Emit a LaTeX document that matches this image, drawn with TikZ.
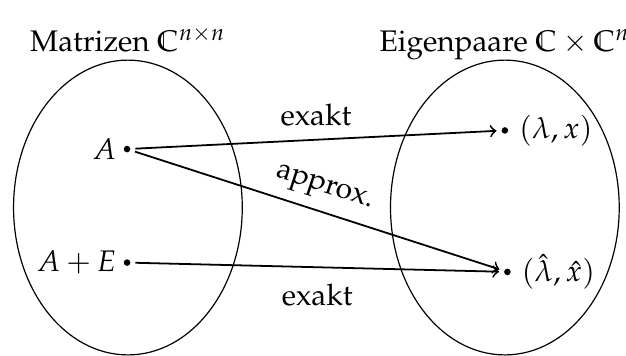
\documentclass[tikz,border=0pt]{standalone}
\usepackage[T1]{fontenc}
\usepackage{mathpazo}
\usetikzlibrary{positioning}
\tikzset{
  elem/.style={circle,fill=black,inner sep=0pt,minimum size=2.2pt},
  menge/.style={draw=black,thin},
  abb/.style={->,semithick,shorten >=1.5pt,shorten <=1.5pt},
}
\begin{document}
\begin{tikzpicture}[x=1cm,y=1cm]
\useasboundingbox (0,0) rectangle (7.39,4.20);
% Mengen
\draw[menge] (1.51,1.75) ellipse [x radius=1.35,y radius=1.74];
\draw[menge] (5.96,1.75) ellipse [x radius=1.35,y radius=1.74];
\node[anchor=base] (titelM) at (1.51,3.59) {Matrizen $\mathbb{C}^{n\times n}$};
\node[anchor=base] (titelE) at (5.96,3.59) {Eigenpaare $\mathbb{C}\times\mathbb{C}^{n}$};
% Elemente
\node[elem] (A) at (1.50,2.44) {};
\node[elem] (AE) at (1.50,1.10) {};
\node[elem] (L) at (5.96,2.66) {};
\node[elem] (Lh) at (5.99,0.99) {};
\node[left=-1.2pt of A] (Alab) {$A$};
\node[left=-1.2pt of AE] (AElab) {$A+E$};
\node[right=0pt of L] (Llab) {$(\lambda,x)$};
\node[right=0pt of Lh] (Lhlab) {$(\hat{\lambda},\hat{x})$};
% Abbildungen
\draw[abb] (A) -- node[above=1pt] (ex1) {exakt} (L);
\draw[abb] (A) -- node[above,sloped] (apx) {approx.} (Lh);
\draw[abb] (AE) -- node[below=2pt] (ex2) {exakt} (Lh);
\end{tikzpicture}
\end{document}
